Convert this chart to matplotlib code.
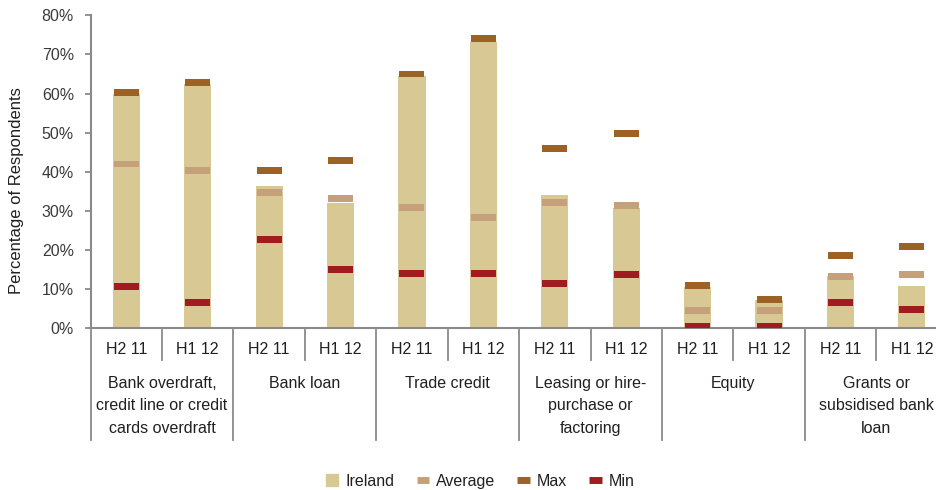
import matplotlib.pyplot as plt
from matplotlib.lines import Line2D
import numpy as np

plt.rcParams['font.family'] = ['Liberation Sans', 'DejaVu Sans']

groups = ["Bank overdraft,\ncredit line or credit\ncards overdraft", "Bank loan", "Trade credit",
          "Leasing or hire-\npurchase or\nfactoring", "Equity", "Grants or\nsubsidised bank\nloan"]
periods = ["H2 11", "H1 12"]

ireland = [59.8, 62.4, 36.4, 32.0, 64.6, 73.3, 34.1, 30.7, 10.6, 7.3, 13.4, 10.8]
average = [42.0, 40.4, 34.7, 33.2, 30.9, 28.4, 32.2, 31.4, 4.6, 4.6, 13.3, 13.8]
maximum = [60.2, 62.8, 40.4, 42.9, 65.0, 74.0, 46.0, 49.8, 11.0, 7.4, 18.7, 21.0]
minimum = [10.8, 6.7, 22.8, 15.1, 14.1, 14.1, 11.5, 13.8, 0.6, 0.6, 6.7, 4.9]

c_ire = '#D8C893'
c_avg = '#C6A07B'
c_max = '#9C6125'
c_min = '#A11C21'
grey = '#8A8A8C'
txt = '#231F20'

fig = plt.figure(figsize=(9.36, 4.9), dpi=100)
ax = fig.add_axes([0.0968, 0.3296, 0.9156, 0.6392])

x = np.arange(len(ireland))
ax.bar(x, ireland, width=0.38, color=c_ire, zorder=2)

# short thick dashes for the comparison values
mh = 1.7
for vals, col in [(average, c_avg), (maximum, c_max), (minimum, c_min)]:
    v = np.array(vals)
    ax.bar(x, mh, bottom=v - mh / 2, width=0.35, color=col, zorder=3)

ax.set_xlim(-0.5, len(ireland) - 0.5)
ax.set_ylim(0, 80)
ax.set_yticks(np.arange(0, 81, 10))
ax.set_yticklabels([f"{t}%" for t in range(0, 81, 10)])
ax.tick_params(axis='y', direction='out', length=4, width=1.3, color=grey,
               labelsize=11.5, labelcolor='#3A3A3A', pad=8)
ax.set_xticks([])

for s in ['top', 'right']:
    ax.spines[s].set_visible(False)
for s in ['left', 'bottom']:
    ax.spines[s].set_color(grey)
    ax.spines[s].set_linewidth(1.5)

tr = ax.get_xaxis_transform()
for i in range(len(ireland)):
    ax.text(i, -0.068, periods[i % 2], transform=tr, ha='center', va='center',
            fontsize=11.5, color=txt)
for g, name in enumerate(groups):
    ax.text(2 * g + 0.5, -0.152, name, transform=tr, ha='center', va='top',
            fontsize=11.5, color=txt, linespacing=1.6)
    # separators of the category table
    ax.plot([2 * g - 0.5, 2 * g - 0.5], [-0.005, -0.356], transform=tr, color=grey,
            lw=1.3, clip_on=False)
    ax.plot([2 * g + 0.5, 2 * g + 0.5], [-0.005, -0.101], transform=tr, color=grey,
            lw=1.3, clip_on=False)
ax.plot([11.5, 11.5], [-0.005, -0.356], transform=tr, color=grey, lw=1.3, clip_on=False)

fig.text(17 / 936, 0.612, "Percentage of Respondents", rotation=90, ha='center',
         va='center', fontsize=12, color=txt)

handles = [
    Line2D([], [], ls='', marker='s', markersize=9, color=c_ire),
    Line2D([], [], lw=5, color=c_avg, solid_capstyle='butt'),
    Line2D([], [], lw=5, color=c_max, solid_capstyle='butt'),
    Line2D([], [], lw=5, color=c_min, solid_capstyle='butt'),
]
fig.legend(handles, ["Ireland", "Average", "Max", "Min"], loc='center',
           bbox_to_anchor=(0.513, 1 - 481 / 490), ncol=4, frameon=False,
           handlelength=0.8, handletextpad=0.4, columnspacing=1.4, fontsize=11.5,
           labelcolor=txt)

fig.savefig("out.png", dpi=100)
